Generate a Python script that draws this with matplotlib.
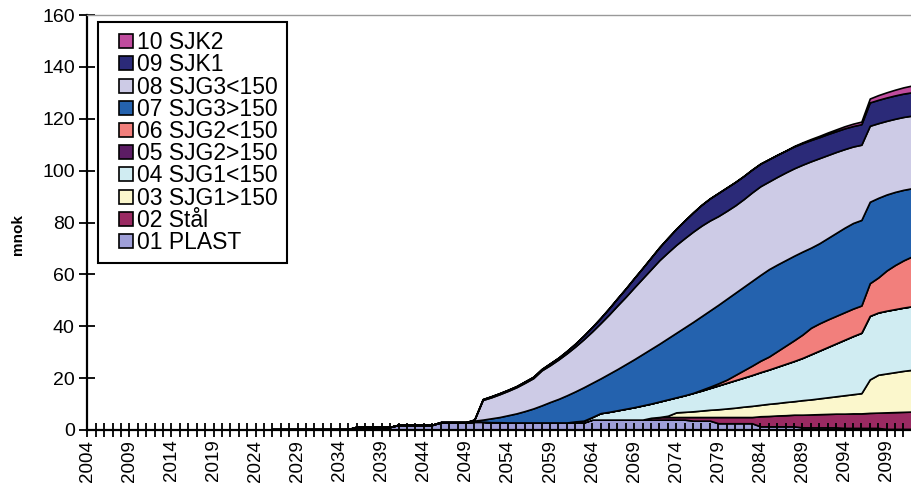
import matplotlib
matplotlib.use("Agg")
import matplotlib.pyplot as plt
from matplotlib.ticker import FixedLocator
from matplotlib.lines import Line2D
import numpy as np

plt.rcParams['font.family'] = ['Liberation Sans', 'DejaVu Sans']

years = list(range(2004, 2103))
pad = [0.0] * (2050 - 2004)

plast = ([0.0] * 22 + [0.3] * 10 + [1.2] * 5 + [2.0] * 5 + [3.0] * 4 +
         [3.2, 3.2, 3.0, 3.0] + [2.9] * 10 + [4.0] * 12 + [3.6] * 3 +
         [2.6] * 5 + [1.4] * 5 + [1.0] * 5 + [0.8] * 5 + [0.4] * 4)
staal = pad + [0.0] * 21 + [0.7, 1.0, 1.0, 1.0, 1.0, 1.4, 1.4, 1.4,
                            2.4, 2.4, 2.4, 2.4, 2.4,
                            3.9, 4.0, 4.2, 4.3, 4.5, 4.9, 5.0, 5.1, 5.2, 5.3,
                            5.5, 5.6, 5.6, 5.8, 5.9, 6.4, 6.5, 6.6, 6.7]
sjg1_gt = pad + [0.0] * 23 + [0.5, 1.8, 2.0, 2.2, 2.5, 2.8, 3.0, 3.3, 3.6, 4.0,
                              4.3, 4.4, 4.7, 4.8, 5.1, 5.2, 5.6, 5.8, 6.1, 6.4,
                              6.7, 7.1, 7.4, 7.8, 12.9, 14.6, 15.0, 15.4, 15.8, 16.1]
sjg1_lt = pad + [0.0] * 12 + [0.4, 0.7, 1.0, 2.5, 3.0, 3.6, 4.2, 4.8, 5.5, 5.5,
                              6.0, 6.3, 5.8, 6.4, 7.1, 7.7, 8.4, 9.2, 9.9, 10.6,
                              11.2, 11.9, 12.6, 13.2, 14.0, 14.7, 15.5, 16.3, 17.4, 18.4,
                              19.4, 20.4, 21.4, 22.4, 23.3, 24.5, 24.0, 24.2, 24.3, 24.4,
                              24.5]
sjg2_gt = pad + [0.0] * 53
sjg2_lt = pad + [0.0] * 27 + [0.3, 0.5, 0.8, 1.2, 2.0, 2.8, 3.6, 4.4, 5.0, 6.0,
                              7.0, 8.0, 9.0, 10.2, 10.5, 10.6, 10.6, 10.6, 10.6, 10.5,
                              12.6, 13.5, 15.5, 17.0, 18.2, 19.2]
sjg3_gt = pad + [0.4, 0.8, 1.5, 2.0, 2.8, 3.5, 4.4, 5.4, 6.6, 7.9,
                 9.1, 10.5, 11.6, 12.9, 13.2, 13.4, 14.7, 15.9, 17.2, 18.5,
                 19.8, 21.1, 22.3, 23.6, 24.9, 26.2, 27.4, 28.4, 29.4, 30.3,
                 31.2, 31.7, 32.2, 32.7, 33.1, 33.7, 33.4, 33.0, 32.6, 32.0,
                 30.9, 30.9, 31.4, 32.0, 32.6, 33.0, 33.0, 31.4, 30.7, 29.3,
                 28.2, 27.2, 26.3]
sjg3_lt = pad + [0.4, 7.6, 8.1, 8.8, 9.4, 10.1, 10.9, 11.7, 13.5, 14.2,
                 15.2, 16.2, 17.3, 18.5, 19.8, 21.3, 22.8, 24.5, 26.0, 27.7,
                 29.2, 30.7, 32.2, 33.1, 33.9, 34.4, 34.8, 34.9, 34.7, 34.2,
                 33.9, 33.7, 33.8, 34.1, 34.2, 33.8, 33.8, 33.8, 33.7, 33.5,
                 33.3, 32.8, 32.0, 31.2, 30.3, 29.5, 29.0, 29.3, 28.8, 28.4,
                 28.2, 28.1, 28.0]
sjk1 = pad + [0.0, 0.3, 0.4, 0.4, 0.4, 0.4, 0.5, 0.5, 0.5, 0.7,
              0.7, 0.9, 1.1, 1.4, 1.7, 2.0, 2.4, 2.8, 3.2, 3.6,
              4.0, 4.5, 5.0, 5.6, 6.2, 6.8, 7.4, 8.0, 8.5, 8.9,
              9.0, 9.0, 8.9, 8.8, 8.7, 8.6, 8.5, 8.4, 8.4, 8.3,
              8.2, 8.1, 8.1, 8.0, 8.0, 7.9, 7.9, 9.0, 9.0, 9.0,
              9.0, 9.0, 9.0]
sjk2 = pad + [0.0] * 38 + [0.2, 0.3, 0.4, 0.5, 0.6, 0.7, 0.8, 0.9, 1.0, 1.5,
                           1.8, 2.0, 2.2, 2.4, 2.6]

labels = ["01 PLAST", "02 Stål", "03 SJG1>150", "04 SJG1<150", "05 SJG2>150",
          "06 SJG2<150", "07 SJG3>150", "08 SJG3<150", "09 SJK1", "10 SJK2"]
colors = ["#9f9fd8", "#9a2a62", "#fbf7cc", "#d0ecf2", "#5c1c64",
          "#f27f7c", "#2462ae", "#cdcbe6", "#2b2a78", "#c04c9e"]
series = [plast, staal, sjg1_gt, sjg1_lt, sjg2_gt, sjg2_lt, sjg3_gt, sjg3_lt, sjk1, sjk2]

fig = plt.figure(figsize=(9.11, 4.92), dpi=100)
ax = fig.add_axes([87.3 / 911, 62 / 492, (911 - 87.3) / 911, 415 / 492])

ax.stackplot(years, *[np.array(s) for s in series], colors=colors,
             edgecolor="black", linewidth=1.2)

ax.set_xlim(2004, 2101.9)
ax.set_ylim(0, 160)
ax.set_yticks(range(0, 161, 20))
ax.xaxis.set_major_locator(FixedLocator(list(range(2004, 2103, 5))))
ax.xaxis.set_minor_locator(FixedLocator(years))
ax.set_xticklabels([str(y) for y in range(2004, 2103, 5)], rotation=90)

ax.tick_params(axis="y", direction="inout", length=12, width=1.3, labelsize=14, pad=3)
ax.tick_params(axis="x", which="both", direction="inout", length=10, width=1.3,
               labelsize=13.5, pad=2)

for side in ("left", "bottom"):
    ax.spines[side].set_linewidth(1.6)
ax.spines["right"].set_visible(False)
ax.spines["top"].set_color("#999999")
ax.spines["top"].set_linewidth(1.0)

ax.set_ylabel("mnok", fontsize=11, fontweight="bold")
ax.yaxis.set_label_coords(-0.076, 0.47)

handles = [Line2D([], [], linestyle="none", marker="s", markersize=10.5,
                  markerfacecolor=c, markeredgecolor="black", markeredgewidth=1.2)
           for c in colors]
leg = ax.legend(handles[::-1], labels[::-1], loc="upper left",
                bbox_to_anchor=(0.013, 0.983), borderaxespad=0,
                fontsize=16.5, frameon=True, fancybox=False, framealpha=1,
                edgecolor="black", handlelength=1.6, handletextpad=-0.3,
                labelspacing=-0.035, borderpad=0.4)
leg.get_frame().set_linewidth(1.5)

fig.savefig("out.png", dpi=100)
